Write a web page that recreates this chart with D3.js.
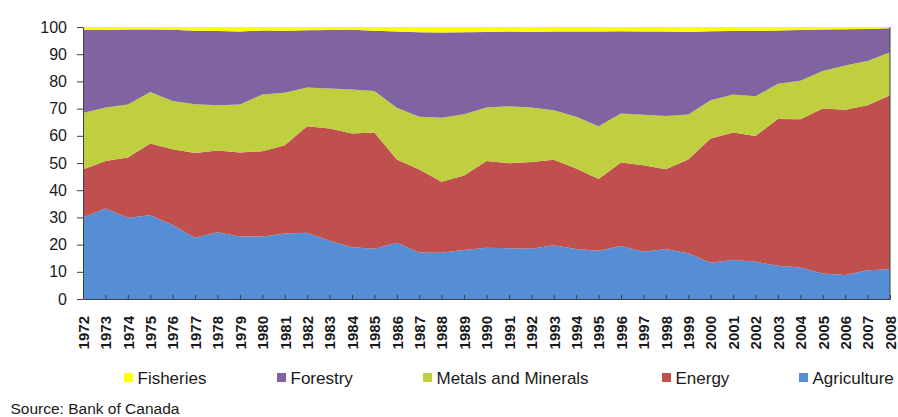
<!DOCTYPE html>
<html>
<head>
<meta charset="utf-8">
<script src="https://cdn.jsdelivr.net/npm/d3@7"></script>
<style>
    body { margin: 0; background: #fff; }
    svg { display: block; font-family: "Liberation Sans", Arial, sans-serif; }
</style>
</head>
<body>
<div id="chart"></div>
<script>
// Data (shares of commodity exports, %)
var years = d3.range(1972, 2009);
var seriesNames = ['Agriculture', 'Energy', 'Metals and Minerals', 'Forestry', 'Fisheries'];
var legendOrder = ['Fisheries', 'Forestry', 'Metals and Minerals', 'Energy', 'Agriculture'];
var yTicks = [0, 10, 20, 30, 40, 50, 60, 70, 80, 90, 100];

var agriculture = [30.0, 33.3, 29.9, 30.8, 27.2, 22.5, 24.5, 23.0, 23.0, 24.1,
                   24.4, 21.4, 19.0, 18.5, 20.7, 17.1, 17.0, 18.0, 18.8, 18.7,
                   18.5, 19.8, 18.4, 17.7, 19.5, 17.4, 18.4, 16.8, 13.3, 14.3,
                   13.7, 12.2, 11.6, 9.4, 8.8, 10.6, 10.9];
var energy = [17.6, 17.4, 22.1, 26.4, 27.9, 31.2, 30.1, 30.9, 31.3, 32.4,
              39.1, 41.3, 41.8, 42.7, 30.6, 30.5, 26.1, 27.4, 31.9, 31.2,
              31.9, 31.4, 29.6, 26.4, 30.7, 31.8, 29.3, 34.5, 45.7, 46.9,
              46.2, 54.0, 54.5, 60.6, 60.8, 60.6, 64.0];
var metals = [20.8, 19.7, 19.5, 18.9, 17.7, 17.9, 16.6, 17.6, 20.9, 19.3,
              14.3, 14.7, 16.2, 15.3, 19.0, 19.4, 23.5, 22.5, 19.7, 21.0,
              20.0, 18.2, 19.0, 19.4, 18.0, 18.5, 19.6, 16.5, 14.1, 14.0,
              14.6, 12.9, 14.1, 13.8, 16.2, 16.3, 15.8];
var forestry = [30.5, 28.5, 27.6, 23.0, 26.2, 27.0, 27.3, 26.8, 23.5, 22.8,
                21.0, 21.5, 22.0, 22.1, 28.0, 31.1, 31.4, 30.2, 27.8, 27.4,
                27.8, 28.9, 31.3, 34.8, 30.2, 30.6, 31.0, 30.4, 25.3, 23.3,
                24.1, 19.6, 18.7, 15.3, 13.4, 11.8, 8.8];
var fisheries = [1.1, 1.1, 0.9, 0.9, 1.0, 1.4, 1.5, 1.7, 1.3, 1.4,
                 1.2, 1.1, 1.0, 1.4, 1.7, 1.9, 2.0, 1.9, 1.8, 1.7,
                 1.8, 1.7, 1.7, 1.7, 1.6, 1.7, 1.7, 1.8, 1.6, 1.5,
                 1.4, 1.3, 1.1, 0.9, 0.8, 0.7, 0.5];

// Colors
var colors = {
    'Agriculture': '#558ed5',
    'Energy': '#c0504d',
    'Metals and Minerals': '#c0cf40',
    'Forestry': '#8064a2',
    'Fisheries': '#ffff00'
};

var width = 898,
    height = 417,
    plot = { left: 83, right: 890, top: 27, bottom: 299 };

// Build table for the stack
var table = years.map(function(y, i) {
    return {
        year: y,
        'Agriculture': agriculture[i],
        'Energy': energy[i],
        'Metals and Minerals': metals[i],
        'Forestry': forestry[i],
        'Fisheries': fisheries[i]
    };
});
var stacked = d3.stack().keys(seriesNames)(table);

// Scales
var xScale = d3.scaleLinear().domain([1972, 2008]).range([plot.left, plot.right]);
var yScale = d3.scaleLinear().domain([0, 100]).range([plot.bottom, plot.top]);

var svg = d3.select('#chart').append('svg')
    .attr('width', width)
    .attr('height', height);

// Areas
var area = d3.area()
    .x(function(d) { return xScale(d.data.year); })
    .y0(function(d) { return yScale(d[0]); })
    .y1(function(d) { return yScale(d[1]); });

svg.append('g').attr('class', 'areas')
    .selectAll('path')
    .data(stacked)
    .enter().append('path')
    .attr('d', area)
    .attr('fill', function(d) { return colors[d.key]; });

// Right edge line
svg.append('line')
    .attr('x1', xScale(2008)).attr('x2', xScale(2008))
    .attr('y1', yScale(100)).attr('y2', yScale(0))
    .attr('stroke', '#404040').attr('stroke-width', 1);

// Y axis
var gy = svg.append('g')
    .attr('transform', 'translate(' + plot.left + ',0)')
    .call(d3.axisLeft(yScale).tickValues(yTicks).tickSize(6).tickSizeOuter(0).tickPadding(10));
gy.selectAll('text')
    .style('font-size', '16px')
    .style('fill', '#1a1a1a');

// X axis
var gx = svg.append('g')
    .attr('transform', 'translate(0,' + plot.bottom + ')')
    .call(d3.axisBottom(xScale).tickValues(years).tickFormat(d3.format('d'))
        .tickSize(-4).tickSizeOuter(0));
gx.selectAll('text')
    .attr('y', 0)
    .attr('dy', '0.35em')
    .attr('transform', 'translate(0,17) rotate(-90)')
    .style('text-anchor', 'end')
    .style('font-size', '15px')
    .style('font-weight', 'bold')
    .style('fill', '#1a1a1a');

svg.selectAll('.domain, .tick line')
    .attr('stroke', '#404040');

// Legend
var legendX = [124, 277, 423, 662, 799];
var legend = svg.append('g').attr('class', 'legend')
    .selectAll('g')
    .data(legendOrder)
    .enter().append('g')
    .attr('transform', function(d, i) { return 'translate(' + legendX[i] + ',373)'; });
legend.append('rect')
    .attr('width', 9).attr('height', 9)
    .attr('fill', function(d) { return colors[d]; });
legend.append('text')
    .attr('x', 13.5).attr('y', 11)
    .style('font-size', '17px')
    .style('fill', '#1a1a1a')
    .text(function(d) { return d; });

// Source note
svg.append('text')
    .attr('x', 10.5).attr('y', 414)
    .style('font-size', '15.5px')
    .style('fill', '#1a1a1a')
    .text('Source: Bank of Canada');
</script>
</body>
</html>
